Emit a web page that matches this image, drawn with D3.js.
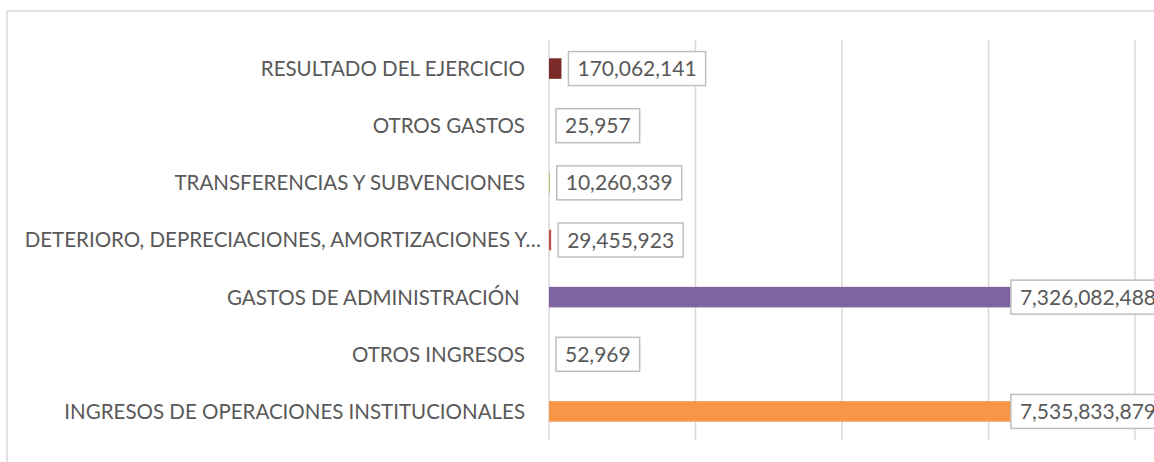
<!DOCTYPE html>
<html>
<head>
<meta charset="utf-8">
<script src="https://cdn.jsdelivr.net/npm/d3@7"></script>
<style>
  body { margin: 0; background: #fff; }
  text { font-family: Lato, "Noto Sans", sans-serif; fill: #595959; }
</style>
</head>
<body>
<div id="chart"></div>
<script>
// data, top row first
var categories = [
  'RESULTADO DEL EJERCICIO',
  'OTROS GASTOS',
  'TRANSFERENCIAS Y SUBVENCIONES',
  'DETERIORO, DEPRECIACIONES, AMORTIZACIONES Y…',
  'GASTOS DE ADMINISTRACIÓN ',
  'OTROS INGRESOS',
  'INGRESOS DE OPERACIONES INSTITUCIONALES'
];
var values = [170062141, 25957, 10260339, 29455923, 7326082488, 52969, 7535833879];
var colors = ['#7b2a2a', '#4f81bd', '#9bbb59', '#c0504d', '#8064a2', '#4bacc6', '#f79646'];
var gridTicks = [0, 2e9, 4e9, 6e9, 8e9];

var W = 1154, H = 462;
var plot = {left: 549, right: 1135, top: 40, bottom: 440};

var svg = d3.select('#chart').append('svg')
  .attr('width', W)
  .attr('height', H);

svg.append('rect').attr('width', W).attr('height', H).attr('fill', '#fff');

// chart border (cropped on the right and bottom)
svg.append('path')
  .attr('d', 'M7,' + H + 'V11H' + W)
  .attr('fill', 'none')
  .attr('stroke', '#d9d9d9')
  .attr('stroke-width', 1.5);

var x = d3.scaleLinear().domain([0, 8e9]).range([plot.left, plot.right]);
var y = d3.scaleBand().domain(categories).range([plot.top, plot.bottom])
  .paddingInner(0.64).paddingOuter(0.32);

// gridlines
svg.append('g').selectAll('line')
  .data(gridTicks).enter().append('line')
  .attr('x1', d => x(d)).attr('x2', d => x(d))
  .attr('y1', plot.top).attr('y2', plot.bottom)
  .attr('stroke', '#d9d9d9')
  .attr('stroke-width', 1.5);

// bars
svg.append('g').selectAll('rect')
  .data(values).enter().append('rect')
  .attr('x', x(0))
  .attr('y', (d, i) => y(categories[i]))
  .attr('width', d => x(d) - x(0))
  .attr('height', y.bandwidth())
  .attr('fill', (d, i) => colors[i]);

// category labels
var catG = svg.append('g');
categories.forEach(function(c, i) {
  var t = catG.append('text')
    .attr('x', 525)
    .attr('y', y(c) + y.bandwidth() / 2)
    .attr('dy', '0.36em')
    .attr('text-anchor', 'end')
    .style('font-size', '20.5px')
    .style('white-space', 'pre')
    .text(c);
  // the truncated label runs closer to the axis, like excel does
  if (t.node().getComputedTextLength() > 480) {
    t.attr('x', x(0) - 8);
  }
});

// data labels in boxes
var fmt = d3.format(',');
var pad = 9, boxH = 34, labelLimit = 1165;
var labG = svg.append('g');
values.forEach(function(v, i) {
  var cy = y(categories[i]) + y.bandwidth() / 2;
  var g = labG.append('g');
  var rect = g.append('rect');
  var t = g.append('text')
    .attr('dy', '0.36em')
    .style('font-size', '21px')
    .text(fmt(v));
  var tw = t.node().getComputedTextLength();
  var bw = tw + pad * 2;
  var bx = Math.min(x(v) + 7, labelLimit - bw);
  rect.attr('x', bx).attr('y', cy - boxH / 2)
    .attr('width', bw).attr('height', boxH)
    .attr('fill', '#fff')
    .attr('stroke', '#bfbfbf')
    .attr('stroke-width', 1.5);
  t.attr('x', bx + pad).attr('y', cy);
});
</script>
</body>
</html>
